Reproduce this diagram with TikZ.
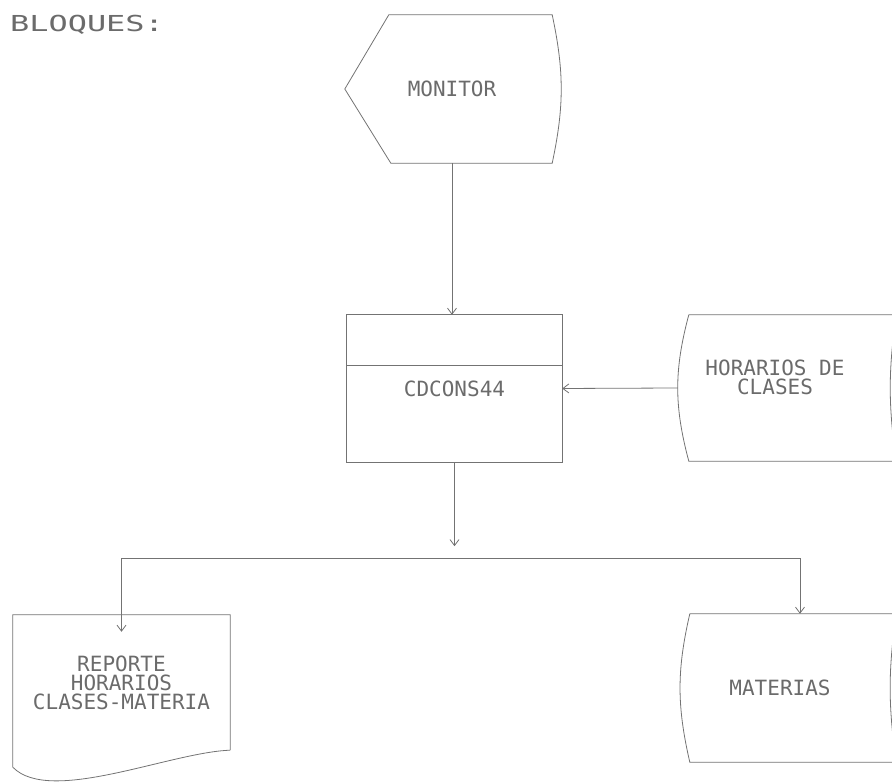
\documentclass[tikz,border=0pt]{standalone}
\usepackage{fontspec}
\usepackage{graphicx}
\setmonofont{DejaVu Sans Mono}
\usetikzlibrary{arrows.meta}
\definecolor{ink}{gray}{0.45}
\definecolor{txtgray}{gray}{0.42}
\tikzset{blk/.style={draw=none, inner sep=0pt, text=txtgray, align=center,
  font=\ttfamily\fontsize{21}{19}\selectfont}}
\tikzset{outl/.style={draw=ink, line width=0.8pt}}
\tikzset{arr/.style={draw=ink, line width=0.8pt, -{Straight Barb[length=6pt,width=9pt]}}}

\begin{document}
\begin{tikzpicture}[x=1pt, y=1pt]
\useasboundingbox (0,0) rectangle (892,784);

\node[anchor=base west, inner sep=0pt, text=txtgray, font=\ttfamily\fontsize{22}{22}\selectfont] (title) at (10,752) {\scalebox{1.45}[1]{BLOQUES:}};

% blocks
\node[blk, minimum width=214pt, minimum height=148pt] (mon) at (452,695) {MONITOR};
\node[blk, minimum width=215pt, minimum height=147pt] (prog) at (454.5,395.5) {CDCONS44};
\node[blk, minimum width=218pt, minimum height=146pt,
  label={[blk, xshift=-12pt, yshift=11pt]center:HORARIOS DE\\CLASES}] (hor) at (787,396) {};
\node[blk, minimum width=216pt, minimum height=148pt,
  label={[blk, xshift=-8pt]center:MATERIAS}] (mat) at (788,96) {};
\node[blk, minimum width=217pt, minimum height=135pt] (rep) at (121.5,101.5) {REPORTE\\HORARIOS\\CLASES-MATERIA};

% outlines
\draw[outl] (mon.west) -- ([xshift=44pt]mon.north west) -- ([xshift=-7pt]mon.north east)
  to[bend left=12] ([xshift=-7pt]mon.south east) -- ([xshift=46pt]mon.south west) -- cycle;

\draw[outl] (prog.north west) rectangle (prog.south east);
\draw[outl] ([yshift=-51pt]prog.north west) -- ([yshift=-51pt]prog.north east);

\draw[outl] ([xshift=11pt]hor.north west) -- (hor.north east) to[bend right=8] (hor.south east)
  -- ([xshift=11pt]hor.south west) to[bend left=15] ([xshift=11pt]hor.north west);

\draw[outl] ([xshift=10pt]mat.north west) -- (mat.north east) to[bend right=8] (mat.south east)
  -- ([xshift=10pt]mat.south west) to[bend left=13] ([xshift=10pt]mat.north west);

\draw[outl] (rep.south east) -- (rep.north east) -- (rep.north west) -- ([yshift=-17pt]rep.south west)
  .. controls ([xshift=37pt,yshift=-55pt]rep.south west) and ([xshift=-60pt,yshift=-2pt]rep.south east) .. (rep.south east);

% connectors
\coordinate (split) at ([yshift=-96pt]prog.south);
\draw[arr] (mon.south) -- (mon.south |- prog.north);
\draw[arr] (hor.west) -- (prog.east);
\draw[arr, shorten >=12pt] (prog.south) -- (split);
\draw[arr, shorten >=-17pt] (split) -| (rep.north);
\draw[arr] (split) -| ([xshift=12pt]mat.north);

\end{tikzpicture}
\end{document}
